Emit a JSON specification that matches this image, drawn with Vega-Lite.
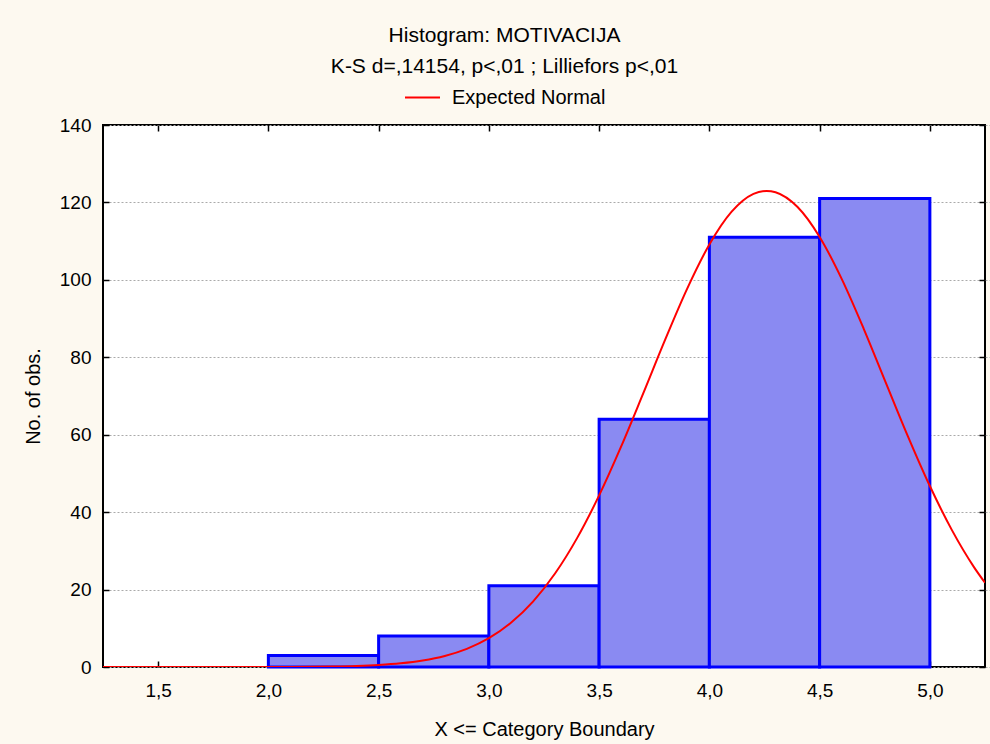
{
  "$schema": "https://vega.github.io/schema/vega-lite/v6.json",
  "width": 882,
  "height": 542,
  "autosize": {"type": "none"},
  "padding": {"left": 103, "top": 125, "right": 5, "bottom": 77},
  "background": "#fdf9f0",
  "title": {
    "text": "Histogram: MOTIVACIJA",
    "subtitle": "K-S d=,14154, p<,01 ; Lilliefors p<,01",
    "anchor": "middle",
    "frame": "bounds",
    "font": "Liberation Sans",
    "fontSize": 21,
    "fontWeight": "normal",
    "color": "#000000",
    "subtitleFont": "Liberation Sans",
    "subtitleFontSize": 21,
    "subtitleColor": "#000000",
    "subtitlePadding": 10,
    "offset": 2
  },
  "config": {
    "view": {"fill": "#ffffff", "stroke": "#000000", "strokeWidth": 2},
    "axis": {
      "labelFont": "Liberation Sans",
      "labelFontSize": 19,
      "labelColor": "#000000",
      "titleFont": "Liberation Sans",
      "titleFontSize": 20,
      "titleFontWeight": "normal",
      "titleColor": "#000000",
      "domain": false,
      "tickColor": "#000000",
      "tickWidth": 1.5,
      "tickSize": 6,
      "offset": -6
    },
    "legend": {
      "labelFont": "Liberation Sans",
      "labelFontSize": 20,
      "labelColor": "#000000"
    }
  },
  "datasets": {
    "bars": [
      {"lo": 2.0, "hi": 2.5, "count": 3},
      {"lo": 2.5, "hi": 3.0, "count": 8},
      {"lo": 3.0, "hi": 3.5, "count": 21},
      {"lo": 3.5, "hi": 4.0, "count": 64},
      {"lo": 4.0, "hi": 4.5, "count": 111},
      {"lo": 4.5, "hi": 5.0, "count": 121}
    ],
    "curve": [
      {"x": 1.25, "y": 0},
      {"x": 1.5, "y": 0},
      {"x": 1.75, "y": 0.002},
      {"x": 2.0, "y": 0.015},
      {"x": 2.1, "y": 0.032},
      {"x": 2.2, "y": 0.068},
      {"x": 2.3, "y": 0.139},
      {"x": 2.4, "y": 0.273},
      {"x": 2.5, "y": 0.517},
      {"x": 2.6, "y": 0.946},
      {"x": 2.7, "y": 1.67},
      {"x": 2.8, "y": 2.85},
      {"x": 2.9, "y": 4.69},
      {"x": 3.0, "y": 7.44},
      {"x": 3.1, "y": 11.42},
      {"x": 3.2, "y": 16.9},
      {"x": 3.3, "y": 24.14},
      {"x": 3.4, "y": 33.29},
      {"x": 3.5, "y": 44.32},
      {"x": 3.6, "y": 56.97},
      {"x": 3.7, "y": 70.68},
      {"x": 3.8, "y": 84.62},
      {"x": 3.9, "y": 97.81},
      {"x": 4.0, "y": 109.13},
      {"x": 4.1, "y": 117.54},
      {"x": 4.2, "y": 122.2},
      {"x": 4.26, "y": 122.98},
      {"x": 4.3, "y": 122.63},
      {"x": 4.4, "y": 118.8},
      {"x": 4.5, "y": 111.08},
      {"x": 4.6, "y": 100.26},
      {"x": 4.7, "y": 87.36},
      {"x": 4.8, "y": 73.47},
      {"x": 4.9, "y": 59.65},
      {"x": 5.0, "y": 46.74},
      {"x": 5.1, "y": 35.36},
      {"x": 5.2, "y": 25.81},
      {"x": 5.25, "y": 21.77}
    ]
  },
  "resolve": {"axis": {"x": "independent", "y": "independent"}},
  "layer": [
    {
      "data": {"name": "bars"},
      "mark": {"type": "bar", "fill": "#8a8af2", "stroke": "#0000ff", "strokeWidth": 3},
      "encoding": {
        "x": {
          "field": "lo",
          "type": "quantitative",
          "scale": {"domain": [1.25, 5.25], "nice": false, "zero": false},
          "axis": {
            "orient": "bottom",
            "values": [1.5, 2.0, 2.5, 3.0, 3.5, 4.0, 4.5, 5.0],
            "labelExpr": "replace(format(datum.value, '.1f'), '.', ',')",
            "grid": false,
            "labelPadding": 14,
            "title": "X <= Category Boundary",
            "titlePadding": 19
          }
        },
        "x2": {"field": "hi"},
        "y": {
          "field": "count",
          "type": "quantitative",
          "scale": {"domain": [0, 140], "nice": false},
          "axis": {
            "orient": "left",
            "values": [0, 20, 40, 60, 80, 100, 120, 140],
            "grid": true,
            "gridColor": "#aaaaaa",
            "gridDash": [2, 2],
            "gridWidth": 1,
            "labelPadding": 12,
            "title": "No. of obs.",
            "titlePadding": 16
          }
        },
        "y2": {"datum": 0}
      }
    },
    {
      "data": {"name": "curve"},
      "mark": {"type": "line", "strokeWidth": 2, "interpolate": "monotone", "clip": true},
      "encoding": {
        "x": {"field": "x", "type": "quantitative", "axis": null},
        "y": {"field": "y", "type": "quantitative", "axis": null},
        "color": {
          "datum": "Expected Normal",
          "scale": {"range": ["#ff0000"]},
          "legend": {
            "title": null,
            "orient": "none",
            "legendX": 301,
            "legendY": -46,
            "symbolType": "stroke",
            "symbolSize": 1225,
            "symbolStrokeWidth": 2,
            "labelOffset": 11,
            "padding": 0
          }
        }
      }
    },
    {
      "data": {"name": "bars"},
      "mark": {"type": "point", "opacity": 0},
      "encoding": {
        "x": {
          "field": "lo",
          "type": "quantitative",
          "axis": {"orient": "top", "values": [1.5, 2.0, 2.5, 3.0, 3.5, 4.0, 4.5, 5.0], "labels": false, "grid": false, "title": null}
        },
        "y": {
          "field": "count",
          "type": "quantitative",
          "axis": {"orient": "right", "values": [0, 20, 40, 60, 80, 100, 120, 140], "labels": false, "grid": false, "title": null}
        }
      }
    }
  ]
}
